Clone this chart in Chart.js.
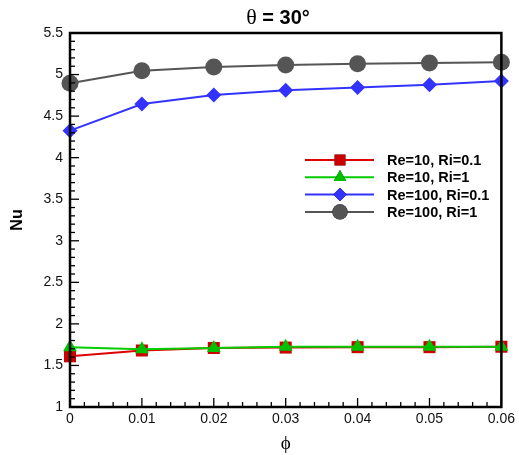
<!DOCTYPE html>
<html>
<head>
<meta charset="utf-8">
<script src="https://cdn.jsdelivr.net/npm/chart.js@4/dist/chart.umd.min.js"></script>
<style>
  html, body { margin: 0; padding: 0; background: #fff; }
  #wrap { width: 519px; height: 455px; }
</style>
</head>
<body>
<div id="wrap"><canvas id="c" width="519" height="455"></canvas></div>
<script>
// data
const phi = [0, 0.01, 0.02, 0.03, 0.04, 0.05, 0.06];
const nuRe10Ri01 = [1.61, 1.68, 1.71, 1.715, 1.72, 1.72, 1.725];
const nuRe10Ri1 = [1.72, 1.695, 1.71, 1.725, 1.725, 1.725, 1.725];
const nuRe100Ri01 = [4.325, 4.645, 4.755, 4.81, 4.845, 4.878, 4.922];
const nuRe100Ri1 = [4.895, 5.045, 5.09, 5.115, 5.13, 5.14, 5.147];

const xTicks = [0, 0.01, 0.02, 0.03, 0.04, 0.05, 0.06];
const xTickLabels = ['0', '0.01', '0.02', '0.03', '0.04', '0.05', '0.06'];
const yTicks = [1, 1.5, 2, 2.5, 3, 3.5, 4, 4.5, 5, 5.5];
const yTickLabels = ['1', '1.5', '2', '2.5', '3', '3.5', '4', '4.5', '5', '5.5'];

const seriesNames = ['Re=10, Ri=0.1', 'Re=10, Ri=1', 'Re=100, Ri=0.1', 'Re=100, Ri=1'];

const pts = arr => arr.map((v, i) => ({ x: phi[i], y: v }));

// frame, inward ticks, title, axis titles, legend
const decor = {
  id: 'decor',
  afterDraw(chart) {
    const { ctx, chartArea: a, scales } = chart;
    const xs = scales.x, ys = scales.y;
    ctx.save();
    ctx.strokeStyle = '#000';
    ctx.lineWidth = 1.3;
    // minor + major ticks, inward
    for (let i = 0; i <= 30; i++) {
      const v = i * 0.002;
      const px = xs.getPixelForValue(v);
      const len = i % 5 === 0 ? 9 : 5;
      ctx.beginPath(); ctx.moveTo(px, a.bottom); ctx.lineTo(px, a.bottom - len); ctx.stroke();
    }
    for (let i = 0; i <= 45; i++) {
      const v = 1 + i * 0.1;
      const py = ys.getPixelForValue(v);
      const len = i % 5 === 0 ? 9 : 5;
      ctx.beginPath(); ctx.moveTo(a.left, py); ctx.lineTo(a.left + len, py); ctx.stroke();
    }
    ctx.lineWidth = 2.5;
    ctx.strokeRect(a.left, a.top, a.right - a.left, a.bottom - a.top);

    // title
    ctx.fillStyle = '#000';
    ctx.textBaseline = 'middle';
    ctx.textAlign = 'left';
    const t1 = 'θ';
    const t2 = ' = 30°';
    ctx.font = 'bold 20px "Liberation Sans", Arial, sans-serif';
    const w2 = ctx.measureText(t2).width;
    ctx.font = '22px "Liberation Serif", serif';
    const w1 = ctx.measureText(t1).width;
    const tx = 278 - (w1 + w2) / 2;
    ctx.fillText(t1, tx, 18);
    ctx.font = 'bold 20px "Liberation Sans", Arial, sans-serif';
    ctx.fillText(t2, tx + w1, 18);

    // axis titles
    ctx.textAlign = 'center';
    ctx.font = '19px "Liberation Serif", serif';
    ctx.fillText('ϕ', (a.left + a.right) / 2, 444);
    ctx.save();
    ctx.translate(18, (a.top + a.bottom) / 2);
    ctx.rotate(-Math.PI / 2);
    ctx.font = 'bold 16px "Liberation Sans", Arial, sans-serif';
    ctx.fillText('Nu', 0, 0);
    ctx.restore();

    // legend
    chart.data.datasets.forEach((ds, i) => {
      const y = 160 + i * 17.3;
      ctx.strokeStyle = ds.borderColor;
      ctx.lineWidth = 2;
      ctx.beginPath(); ctx.moveTo(305, y); ctx.lineTo(374, y); ctx.stroke();
      Chart.helpers.drawPoint(ctx, {
        pointStyle: ds.pointStyle,
        radius: ds.legendRadius,
        borderWidth: 0
      }, 340, y);
      ctx.fillStyle = ds.pointBackgroundColor;
      ctx.fill();
      ctx.fillStyle = '#000';
      ctx.textAlign = 'left';
      ctx.font = 'bold 14.5px "Liberation Sans", Arial, sans-serif';
      ctx.fillText(ds.label, 387, y + 1);
    });
    ctx.restore();
  }
};

const mk = (label, data, line, fill, style, r, order) => ({
  label, data: pts(data),
  borderColor: line, borderWidth: 2,
  pointBackgroundColor: fill, pointBorderColor: fill, pointBorderWidth: 0,
  pointStyle: style, pointRadius: r, legendRadius: r * 0.9,
  tension: 0, clip: false, order
});

new Chart(document.getElementById('c'), {
  type: 'line',
  data: {
    datasets: [
      mk(seriesNames[0], nuRe10Ri01, '#e00000', '#cc0000', 'rect', 8.5, 2),
      mk(seriesNames[1], nuRe10Ri1, '#00cc00', '#00c000', 'triangle', 8, 1),
      mk(seriesNames[2], nuRe100Ri01, '#3333ff', '#3333ff', 'rectRot', 7.5, 0),
      mk(seriesNames[3], nuRe100Ri1, '#555555', '#555555', 'circle', 8.5, 0)
    ]
  },
  options: {
    responsive: false,
    animation: false,
    events: [],
    layout: { padding: { top: 33, right: 17, left: 0, bottom: 0 } },
    plugins: { legend: { display: false }, title: { display: false }, tooltip: { enabled: false } },
    scales: {
      x: {
        type: 'linear', min: 0, max: 0.06,
        afterBuildTicks: s => { s.ticks = xTicks.map(v => ({ value: v })); },
        afterFit: s => { s.height = 48; },
        grid: { display: false, drawTicks: false },
        border: { display: false },
        ticks: {
          padding: 4, color: '#111',
          font: { family: '"Liberation Sans", Arial, sans-serif', size: 14 },
          callback: (v, i) => xTickLabels[i]
        }
      },
      y: {
        type: 'linear', min: 1, max: 5.5,
        afterBuildTicks: s => { s.ticks = yTicks.map(v => ({ value: v })); },
        afterFit: s => { s.width = 70; },
        grid: { display: false, drawTicks: false },
        border: { display: false },
        ticks: {
          padding: 7, color: '#111',
          font: { family: '"Liberation Sans", Arial, sans-serif', size: 14 },
          callback: (v, i) => yTickLabels[i]
        }
      }
    }
  },
  plugins: [decor]
});
</script>
</body>
</html>
